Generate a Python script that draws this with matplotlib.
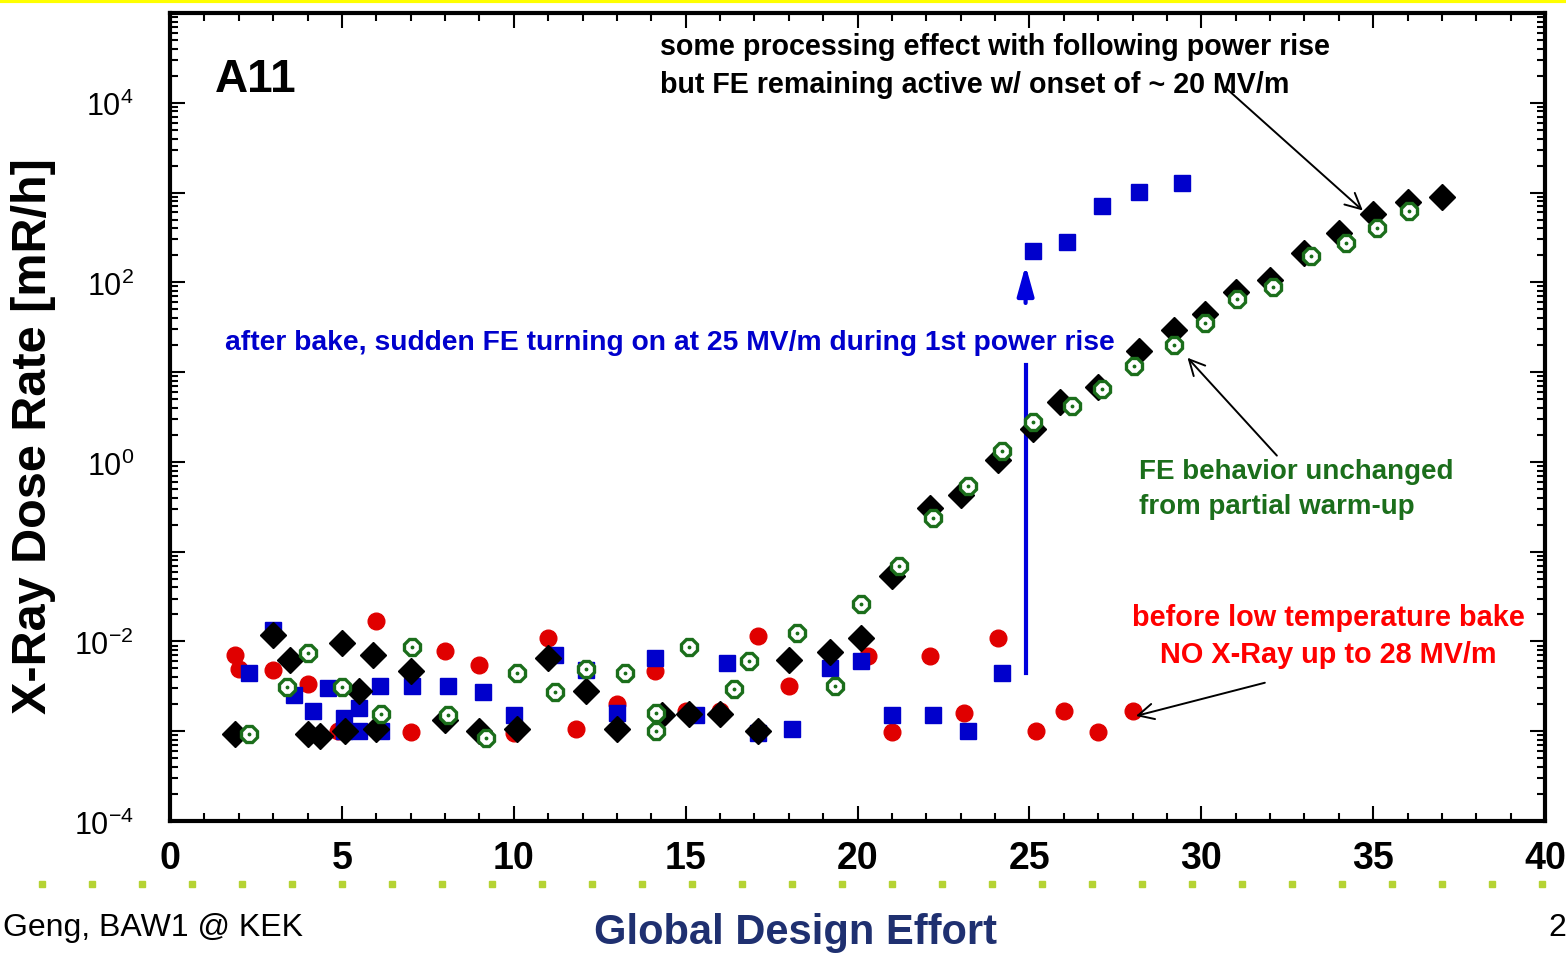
import numpy as np
import matplotlib
matplotlib.use("Agg")
import matplotlib.pyplot as plt
from matplotlib import font_manager
from matplotlib.lines import Line2D
from matplotlib.ticker import FixedLocator, MultipleLocator, LogLocator, NullFormatter

# pick a narrow font if the system has one
names = {f.name for f in font_manager.fontManager.ttflist}
NARROW = "Liberation Sans Narrow" if "Liberation Sans Narrow" in names else "Liberation Sans"

# data: Eacc [MV/m] vs X-ray dose rate [mR/h]
before_x = [1.9, 2.0, 3.0, 4.0, 4.9, 6.0, 7.0, 8.0, 9.0, 10.0, 11.0, 11.8, 13.0, 14.1,
            15.0, 16.0, 17.1, 18.0, 20.3, 21.0, 22.1, 23.1, 24.1, 25.2, 26.0, 27.0, 28.0]
before_y = [7.1e-3, 4.9e-3, 4.8e-3, 3.4e-3, 1.0e-3, 1.7e-2, 9.8e-4, 7.9e-3, 5.4e-3, 9.5e-4,
            1.1e-2, 1.05e-3, 2.0e-3, 4.7e-3, 1.7e-3, 1.7e-3, 1.15e-2, 3.2e-3, 6.8e-3, 9.8e-4,
            6.8e-3, 1.6e-3, 1.1e-2, 1.0e-3, 1.66e-3, 9.8e-4, 1.66e-3]

after_x = [2.3, 3.0, 3.6, 4.15, 4.6, 5.05, 5.05, 5.5, 5.5, 6.1, 6.15, 7.05, 8.1, 9.1, 10.0,
           11.2, 12.1, 13.0, 14.1, 15.3, 16.2, 17.1, 18.1, 19.2, 20.1, 21.0, 22.2, 23.2, 24.2,
           25.1, 26.1, 27.1, 28.2, 29.45]
after_y = [4.5e-3, 1.35e-2, 2.5e-3, 1.66e-3, 3.0e-3, 1.4e-3, 1.0e-3, 1.8e-3, 1.0e-3, 3.2e-3,
           1.0e-3, 3.2e-3, 3.2e-3, 2.75e-3, 1.5e-3, 7.1e-3, 4.8e-3, 1.6e-3, 6.6e-3, 1.5e-3,
           5.8e-3, 9.5e-4, 1.07e-3, 5.0e-3, 6.0e-3, 1.5e-3, 1.5e-3, 1.0e-3, 4.5e-3,
           224, 282, 708, 1020, 1290]

process_x = [1.9, 3.0, 3.5, 4.0, 4.35, 5.0, 5.1, 5.5, 5.9, 6.0, 7.0, 8.0, 9.0, 10.1, 11.0,
             12.1, 13.0, 14.3, 15.1, 16.0, 17.1, 18.0, 19.2, 20.1, 21.0, 22.1, 23.0, 24.1,
             25.1, 25.9, 27.0, 28.2, 29.2, 30.1, 31.0, 32.0, 33.0, 34.0, 35.0, 36.0, 37.0]
process_y = [9.3e-4, 1.17e-2, 6.2e-3, 9.3e-4, 8.9e-4, 9.5e-3, 1.0e-3, 2.8e-3, 7.1e-3, 1.07e-3,
             4.7e-3, 1.35e-3, 1.0e-3, 1.07e-3, 6.6e-3, 2.8e-3, 1.07e-3, 1.5e-3, 1.55e-3,
             1.55e-3, 1.0e-3, 6.2e-3, 7.6e-3, 1.1e-2, 0.054, 0.31, 0.43, 1.05, 2.3, 4.7, 6.9,
             17, 29.5, 44, 79, 105, 214, 355, 575, 776, 890]

warm_x = [2.3, 3.4, 4.0, 5.0, 6.15, 7.05, 8.1, 9.2, 10.1, 11.2, 12.1, 13.25, 14.15, 14.15,
          15.1, 16.4, 16.85, 18.25, 19.35, 20.1, 21.2, 22.2, 23.2, 24.2, 25.1, 26.25, 27.1,
          28.05, 29.2, 30.1, 31.05, 32.1, 33.2, 34.2, 35.1, 36.05]
warm_y = [9.3e-4, 3.1e-3, 7.4e-3, 3.1e-3, 1.55e-3, 8.7e-3, 1.5e-3, 8.5e-4, 4.5e-3, 2.75e-3,
          4.9e-3, 4.5e-3, 1.6e-3, 1.0e-3, 8.7e-3, 2.95e-3, 6.0e-3, 1.23e-2, 3.2e-3, 2.6e-2,
          0.069, 0.24, 0.54, 1.32, 2.8, 4.2, 6.5, 11.7, 20, 35, 66, 89, 195, 275, 400, 617]

x_ticks = [0, 5, 10, 15, 20, 25, 30, 35, 40]
y_decades = list(range(-4, 6))
y_labels = ["$10^{-4}$", "", "$10^{-2}$", "", "$10^{0}$", "", "$10^{2}$", "", "$10^{4}$", ""]

plt.rcParams["mathtext.fontset"] = "custom"
plt.rcParams["mathtext.rm"] = NARROW
plt.rcParams["mathtext.it"] = NARROW

fig = plt.figure(figsize=(15.66, 9.54), dpi=100)
ax = fig.add_axes([170 / 1566, 1 - 822 / 954, 1375 / 1566, 808 / 954])

ax.plot(before_x, before_y, "o", color="#e00000", ms=12, mec="#e00000", zorder=3)
ax.plot(after_x, after_y, "s", color="#0000cc", ms=12, mec="#0000cc", zorder=4)
ax.plot(process_x, process_y, "D", color="black", ms=13, zorder=5)
ax.plot(warm_x, warm_y, "8", mfc="white", mec="#1b6e1b", mew=2.4, ms=12.5, zorder=6)
ax.plot(warm_x, warm_y, ".", color="#1b6e1b", ms=3.5, zorder=7)

ax.set_yscale("log")
ax.set_xlim(0, 40)
ax.set_ylim(1e-4, 1e5)

ax.xaxis.set_major_locator(FixedLocator(x_ticks))
ax.xaxis.set_minor_locator(MultipleLocator(1))
ax.yaxis.set_minor_locator(LogLocator(base=10, subs=np.arange(2, 10), numticks=20))
ax.yaxis.set_minor_formatter(NullFormatter())
ax.set_yticks([10.0 ** k for k in y_decades], y_labels)
ax.set_xticks(x_ticks, [str(v) for v in x_ticks])

ax.tick_params(which="both", direction="in", top=True, right=True, width=1.5)
ax.tick_params(which="major", length=11)
ax.tick_params(which="minor", length=5.5)
ax.tick_params(axis="x", pad=14)
ax.tick_params(axis="y", pad=26)
for lab in ax.get_xticklabels():
    lab.set_fontfamily(NARROW)
    lab.set_fontweight("bold")
    lab.set_fontsize(27)
for lab in ax.get_yticklabels():
    lab.set_fontsize(22)
for sp in ax.spines.values():
    sp.set_linewidth(3)

ax.set_ylabel("X-Ray Dose Rate [mR/h]", fontsize=35, fontweight="bold",
              family="Liberation Sans")
ax.yaxis.set_label_coords(-0.083, 0.478)

# annotations
ax.text(1.3, 10 ** 4.27, "A11", fontsize=33, fontweight="bold", family=NARROW, va="center")
ax.text(14.25, 10 ** 4.42, "some processing effect with following power rise\n"
        "but FE remaining active w/ onset of ~ 20 MV/m",
        fontsize=20.6, fontweight="bold", family=NARROW, va="center", linespacing=1.45)
ax.annotate("", xy=(34.7, 10 ** 2.8), xytext=(30.7, 10 ** 4.17),
            arrowprops=dict(arrowstyle="->", color="black", lw=1.4,
                            mutation_scale=28, shrinkA=0, shrinkB=0))

ax.text(1.6, 10 ** 1.34, "after bake, sudden FE turning on at 25 MV/m during 1st power rise",
        fontsize=20.3, fontweight="bold", family=NARROW, color="#0000cc", va="center")
ax.plot([24.89, 24.89], [10 ** -2.35, 10 ** 1.08], color="#0000dd", lw=3, zorder=2)
ax.annotate("", xy=(24.89, 10 ** 2.19), xytext=(24.89, 10 ** 1.77),
            arrowprops=dict(arrowstyle="-|>,head_length=0.9,head_width=0.25",
                            color="#0000dd", lw=3, mutation_scale=20,
                            shrinkA=0, shrinkB=0))

ax.text(28.2, 10 ** -0.3, "FE behavior unchanged\nfrom partial warm-up",
        fontsize=20, fontweight="bold", family=NARROW, color="#1b6e1b", va="center",
        linespacing=1.45)
ax.annotate("", xy=(29.6, 10 ** 1.16), xytext=(32.2, 10 ** 0.07),
            arrowprops=dict(arrowstyle="->", color="black", lw=1.4,
                            mutation_scale=28, shrinkA=0, shrinkB=0))

ax.text(33.7, 10 ** -1.93, "before low temperature bake\nNO X-Ray up to 28 MV/m",
        fontsize=20.8, fontweight="bold", family=NARROW, color="#ff0000", va="center",
        ha="center", multialignment="center", linespacing=1.4)
ax.annotate("", xy=(28.1, 10 ** -2.83), xytext=(31.85, 10 ** -2.46),
            arrowprops=dict(arrowstyle="->", color="black", lw=1.4,
                            mutation_scale=28, shrinkA=0, shrinkB=0))

# slide decorations
fig.add_artist(Line2D([0, 1], [1 - 1.5 / 954, 1 - 1.5 / 954], color="#ffff00", lw=3))
dots = np.arange(42, 1566, 50) / 1566
fig.add_artist(Line2D(dots, np.full(dots.size, 1 - 885 / 954), ls="none", marker="s",
                      ms=5, color="#b5d334"))
fig.text(3 / 1566, 1 - 928 / 954, "Geng, BAW1 @ KEK", fontsize=23,
         family="Liberation Sans", va="center")
fig.text(796 / 1566, 1 - 933 / 954, "Global Design Effort", fontsize=30,
         fontweight="bold", family="Liberation Sans", color="#1f3070",
         ha="center", va="center")
fig.text(1548 / 1566, 1 - 928 / 954, "2", fontsize=23, family="Liberation Sans", va="center")

fig.savefig("out.png", dpi=100)
